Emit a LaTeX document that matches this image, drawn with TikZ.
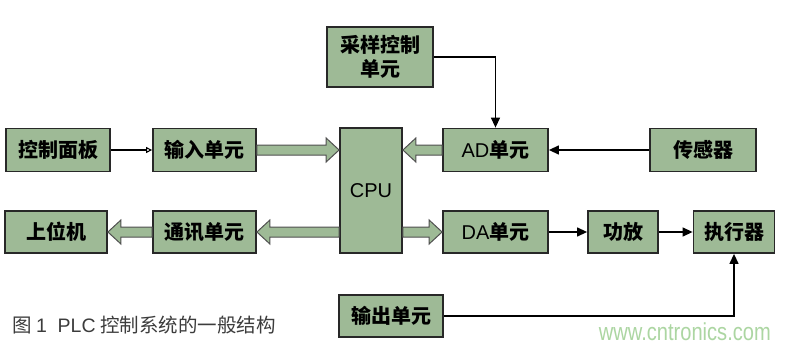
\documentclass[tikz,border=0pt]{standalone}
\usepackage{fontspec}
\newfontfamily\cjk{Noto Sans CJK SC}
\newfontfamily\wmfont[FakeStretch=0.82]{Liberation Sans}
\newfontfamily\latinsans{Liberation Sans}
\usetikzlibrary{calc,arrows.meta}
\definecolor{boxfill}{RGB}{158,186,150}
\definecolor{boxline}{RGB}{40,40,40}
\definecolor{fatline}{RGB}{80,80,80}
\definecolor{wmgreen}{RGB}{172,214,162}
\definecolor{captext}{RGB}{60,60,60}
\tikzset{
  blk/.style={draw=boxline, line width=1.8pt, fill=boxfill, inner sep=0pt, align=center,
    font=\cjk\bfseries\fontsize{20}{24}\selectfont},
  thinarr/.style={draw=black, line width=1.3pt, -{Triangle[length=10pt,width=9pt]}},
  smallarr/.style={draw=black, line width=1.1pt, -{Triangle[open,length=6pt,width=6pt]}},
  fat/.style={draw=fatline, line width=1pt, fill=boxfill, line join=miter},
}
\newcommand\fatR[2]{\draw[fat] ($(#1)+(0,5)$) -- ($(#2)+(-13,5)$) -- ($(#2)+(-13,12)$) -- (#2) -- ($(#2)+(-13,-12)$) -- ($(#2)+(-13,-5)$) -- ($(#1)+(0,-5)$) -- cycle;}
\newcommand\fatL[2]{\draw[fat] ($(#1)+(0,5)$) -- ($(#2)+(13,5)$) -- ($(#2)+(13,12)$) -- (#2) -- ($(#2)+(13,-12)$) -- ($(#2)+(13,-5)$) -- ($(#1)+(0,-5)$) -- cycle;}
\begin{document}
\begin{tikzpicture}[x=1pt,y=-1pt]
\useasboundingbox[fill=white] (0,0) rectangle (790,348);
% boxes
\node[blk, minimum width=104pt, minimum height=43pt] (ctrl) at (58,150) {控制面板};
\node[blk, minimum width=103pt, minimum height=43pt] (inp) at (204.5,150) {输入单元};
\node[blk, minimum width=62pt, minimum height=125pt, font=\latinsans\fontsize{20}{24}\selectfont] (cpu) at (371,190.5) {CPU};
\node[blk, minimum width=102pt, minimum height=42pt] (upc) at (56,232) {上位机};
\node[blk, minimum width=103pt, minimum height=42pt] (comm) at (204.5,232) {通讯单元};
\node[blk, minimum width=105pt, minimum height=43pt] (ad) at (495.5,150) {{\latinsans\mdseries AD}单元};
\node[blk, minimum width=106pt, minimum height=43pt] (sens) at (703,150) {传感器};
\node[blk, minimum width=105pt, minimum height=42pt] (da) at (495.5,232) {{\latinsans\mdseries DA}单元};
\node[blk, minimum width=70pt, minimum height=42pt] (amp) at (623,232) {功放};
\node[blk, minimum width=81pt, minimum height=42pt] (act) at (734,232) {执行器};
\node[blk, minimum width=106pt, minimum height=60pt] (samp) at (380,57) {采样控制\\单元};
\node[blk, minimum width=104pt, minimum height=42pt] (out) at (391,316) {输出单元};
% fat arrows
\fatR{inp.east}{cpu.west |- inp.east}
\fatL{ad.west}{cpu.east |- ad.west}
\fatR{cpu.east |- da.west}{da.west}
\fatL{cpu.west |- comm.east}{comm.east}
\fatL{comm.west}{upc.east}
% thin arrows
\draw[smallarr] (ctrl) -- (inp);
\draw[thinarr] (sens) -- (ad);
\draw[thinarr] (da) -- (amp);
\draw[thinarr] (amp) -- (act);
\draw[thinarr] (samp.east) -| (ad.north);
\draw[thinarr] (out.east) -| (act.south);
% caption and watermark
\node[anchor=west, inner sep=0pt, text=captext, font=\cjk\fontsize{19.5}{23}\selectfont] (cap) at (12,325) {图 {\latinsans 1\ \ PLC} 控制系统的一般结构};
\node[anchor=east, inner sep=0pt, text=wmgreen, font=\wmfont\fontsize{24.5}{27}\selectfont] (wm) at (771,332) {www.cntronics.com};
\end{tikzpicture}
\end{document}
